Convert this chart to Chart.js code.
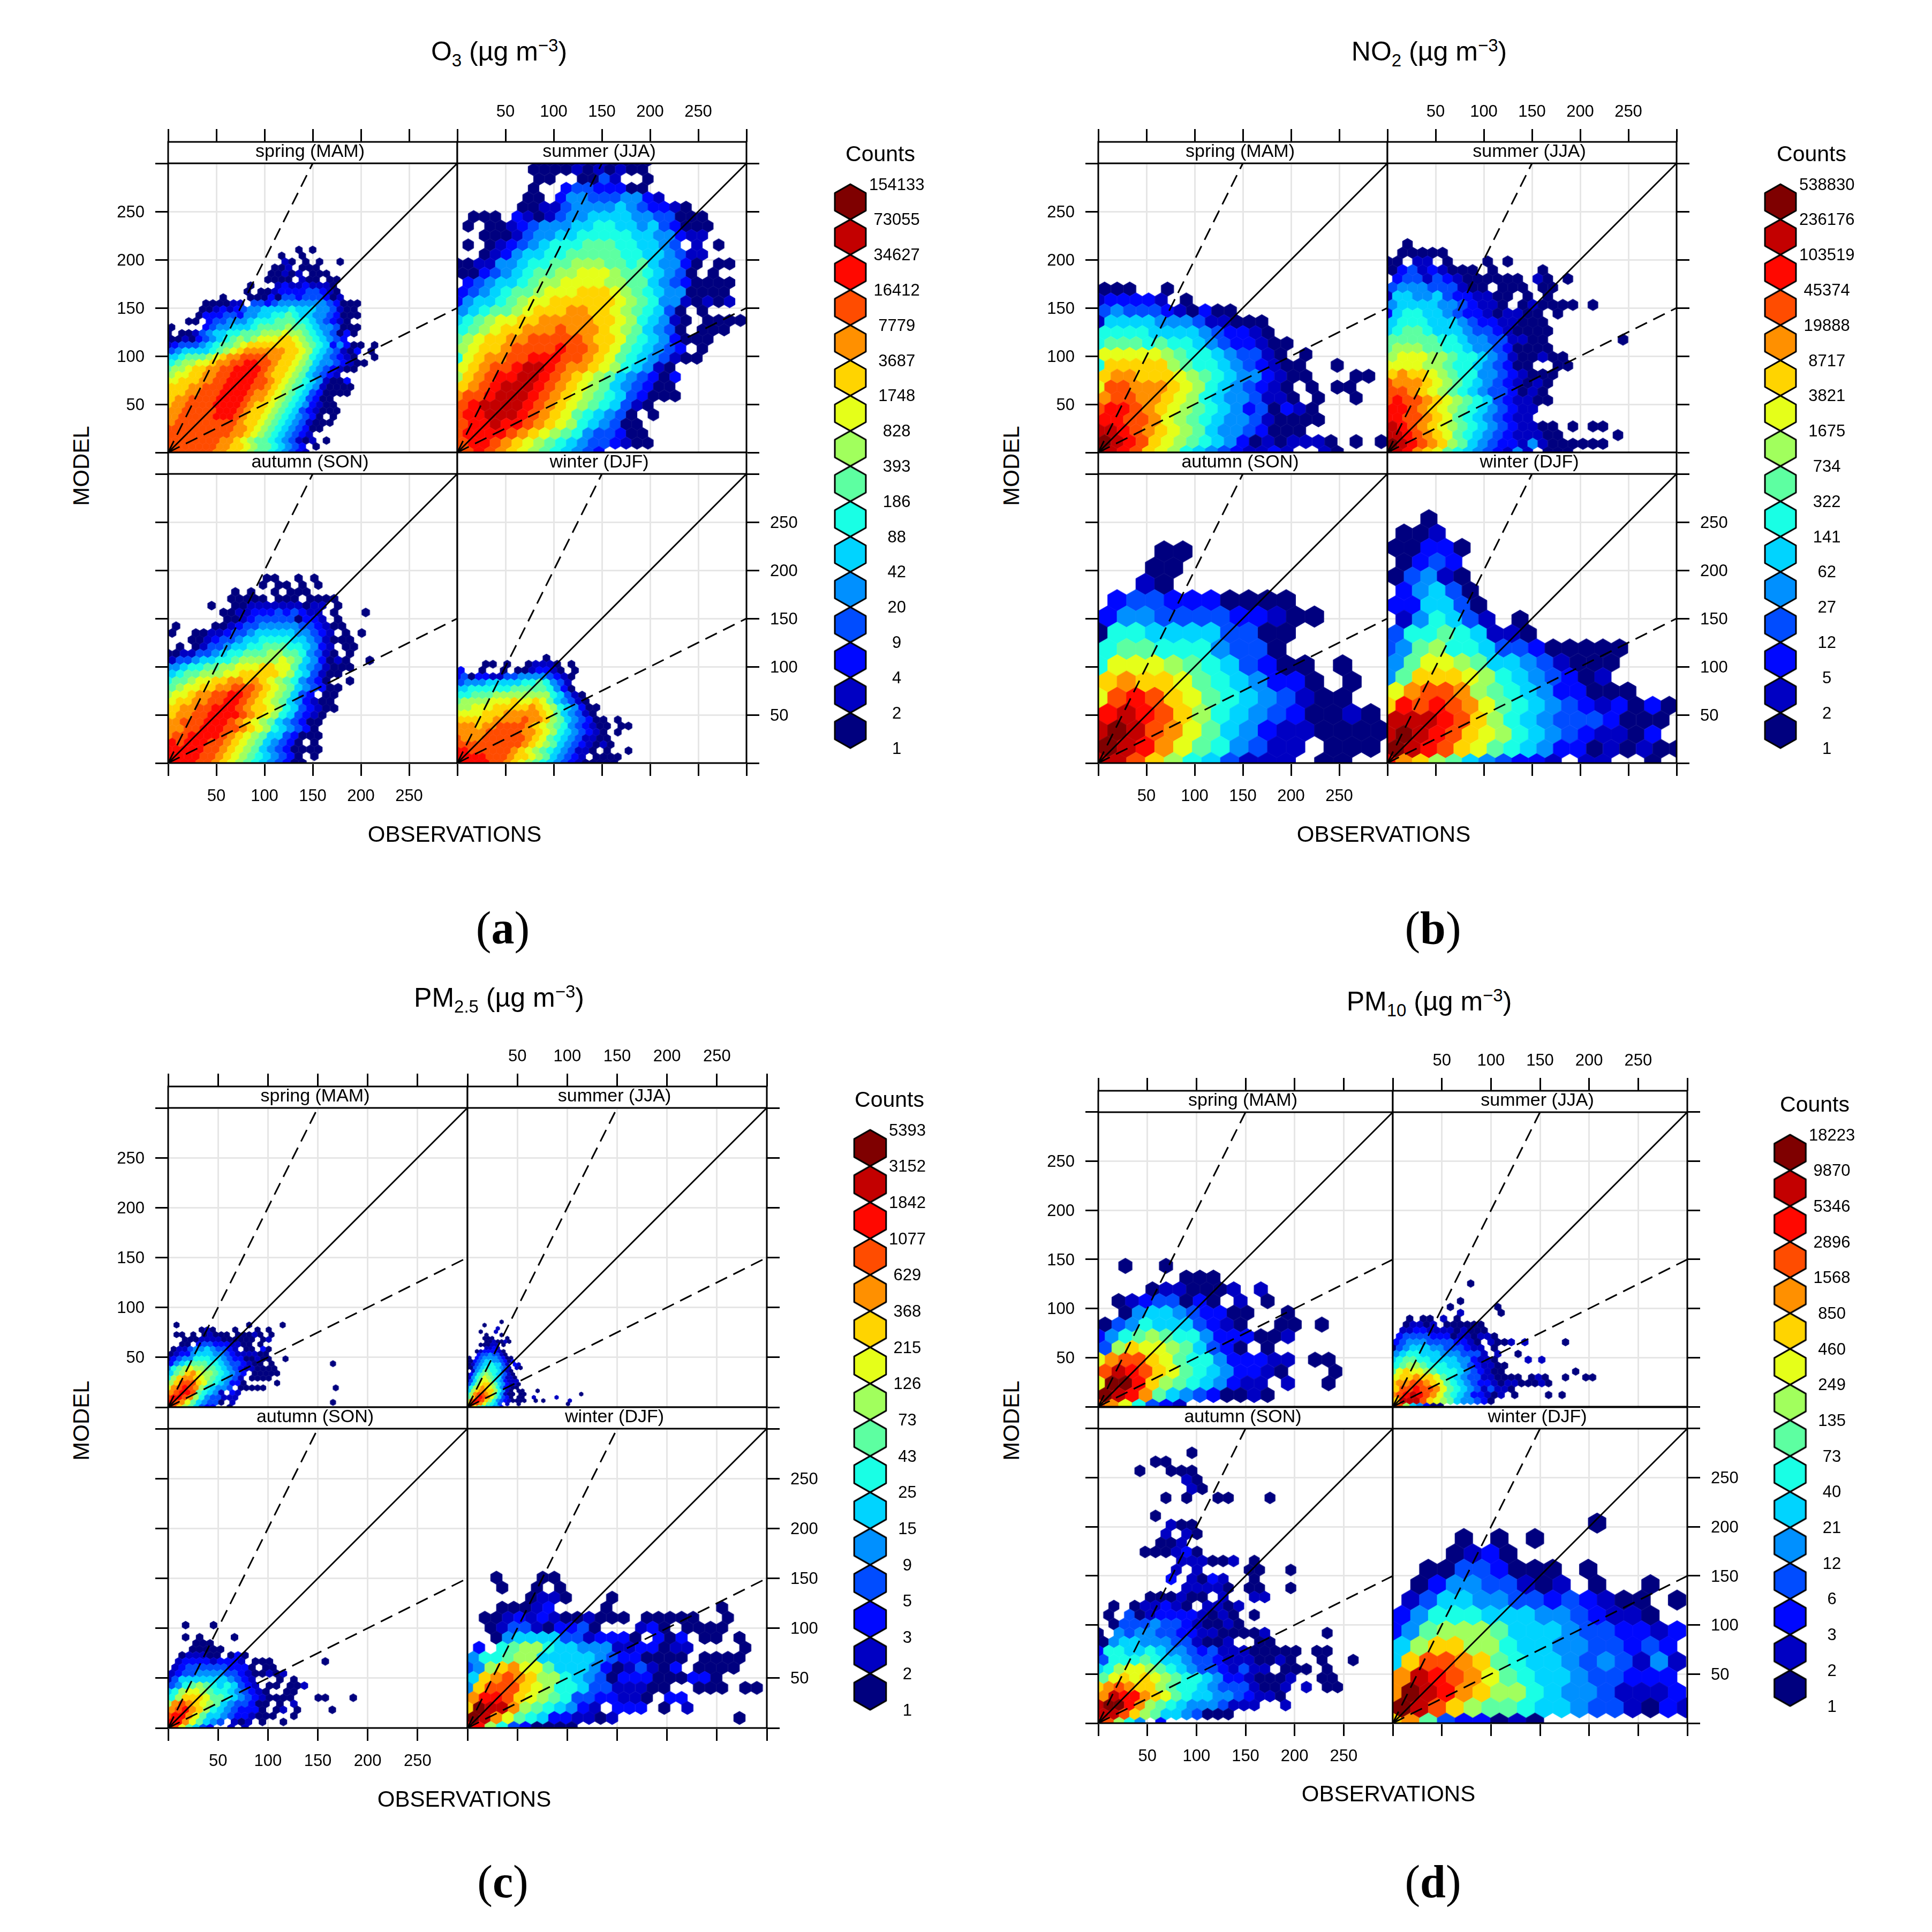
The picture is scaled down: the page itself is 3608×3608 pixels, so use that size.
<!DOCTYPE html>
<html>
<head>
<meta charset="utf-8">
<script src="https://cdn.jsdelivr.net/npm/chart.js@4"></script>
<style>
	body { margin:0; background:#fff; width:3608px; height:3608px; position:relative; overflow:hidden; font-family:"Liberation Sans",sans-serif; color:#000; }
	canvas { position:absolute; }
	.txt { position:absolute; transform:translate(-50%,-50%); white-space:nowrap; }
	.title { font-size:50px; }
	.title sub, .title sup { font-size:33px; }
	.axis { font-size:42px; }
	.tag { font-size:86px; font-family:"Liberation Serif",serif; }
	.counts { font-size:41px; }
</style>
</head>
<body>
<script>
//Legend counts, largest first
const O3_COUNTS = [154133,73055,34627,16412,7779,3687,1748,828,393,186,88,42,20,9,4,2,1];
const NO2_COUNTS = [538830,236176,103519,45374,19888,8717,3821,1675,734,322,141,62,27,12,5,2,1];
const PM25_COUNTS = [5393,3152,1842,1077,629,368,215,126,73,43,25,15,9,5,3,2,1];
const PM10_COUNTS = [18223,9870,5346,2896,1568,850,460,249,135,73,40,21,12,6,3,2,1];

const SEASONS = ['spring (MAM)','summer (JJA)','autumn (SON)','winter (DJF)'];
const AXIS_TICKS = [0,50,100,150,200,250,300];
const AXIS_LABELS = [50,100,150,200,250];

//Reference lines 1:1, 2:1 and 1:2
const LINE_1_1 = [[0,0],[300,300]];
const LINE_2_1 = [[0,0],[150,300]];
const LINE_1_2 = [[0,0],[300,150]];

//Hexbin cells, one string per row, top row first. Each char is the colour class
//of a cell (0 = lowest count class, f = highest), '.' is an empty cell
const O3_SPRING = [
"...................0.0",
"................0..0",
".................10.0.0..0",
"...............001.000",
"...............00101.000",
"..............0000.100.00",
"............0...121121110",
"...........0.001222233210",
"........0...00020332333201",
".....000011.3323444444432000",
".....00121234455556555443100",
"....022233244556676554432000",
"...00.233444566677766543210",
"0....23445556777787765443000",
"0.00134556677788898876543020",
"0010234567878999aa98765432",
"123334567789aaaaaaa9876524200.0",
"3455556789abbbbbbaa986543102.0",
"55677789abbccccbbaa986543210..0",
"678899abbccddccbaa98754432100",
"7889aabbccddddcbaa9875432100",
"899aabbccddddcbaa98754321",
"99aaabbccddddccba9876541002",
"aaabbcccddddccba98765410000",
"aaabbcccddddcbba98765320000",
"abbccccddddcbba987653200",
"abbccccddddcbaa9876542100",
"bbcccccdddcbaa98765321000",
"bbcccccdddcbaa987654320.0",
"bcccccccccbaa98765431000",
"ccccccccccbba9876543200",
"cccccccccbba987654321",
"ccccccccbba98776543101.0",
"cccccccbbaa987765432.0",
"cccccccbbaa9877654321"];
const O3_SUMMER = [
".......00001010000",
".......00001010100",
".......00..0031..0",
".......0..23322200",
"......00.2443334421",
"......0011344445432210",
".000.210134455554433000",
".0.001234445566554532000",
"..000134455666665544211",
".0.012345666777665543.1.0",
"..012455667777766554311",
"00114456677888776754420.00",
"0023456778899987765430.0",
".2345567889999887754320000",
"23456778999aaa98765440000",
"245567899aaaaaa98764410101",
"4567789aaabbaa9876530.0",
"567899aabbbbbaa9865410.0000",
"6789aabbbcbbba9875430.000",
"789aabbcccccbaa976542000",
"89aabccccdccba9765432.0",
"69abbccdddccba976543100",
"9abccdeedcbba9865410",
"8abcddeedcba987543202",
"abcdeeedcba987543200",
"bccdeeedcba9876532000",
"cdeeeedcba98765310",
"cddeeedcba9765430.0",
"cddeddcba98654300",
"cddddcba9876433200",
"cddcba987654332100",
"ccdcba98765432"];
const O3_AUTUMN = [
"............00..0.0",
"............0.00.0.0",
"........0.0..0.000",
"........00000.000.0000",
".....0..001111111011.0",
".......0011222323211.0...0",
".......0012333330221.0",
".0....00123344444332100",
"0..001123345555544321.0.0",
"...001233455666655431000",
".0.013345566777665421.00",
"0011334566777887764310.0",
"13345566788888987542010..0",
"445667788999aa9975431000",
"567788899aaaaa98653100",
"677899aabbaba98764320..0",
"7899aabbcccba987543200",
"899abbccddcba987532.00",
"9aabbccddcba987542100",
"aabbccdddcbaa986532100",
"abbccddddcba98653210",
"bbcccdddcba987543200",
"bbccdddccba98654320",
"bccddddcba9875532000",
"dcdddccba98754320.0",
"dddddccba98754320000",
"ddddccba987654320.0",
"ddddccba9876543200"];
const O3_WINTER = [
"............0",
"....00.0..01110.0",
"2..0..0.0012210.0",
"23022113344443210",
"3444555556676431",
"55666666777776420",
"667778888888865310",
"78888999a99a9754310",
"88999aaaaaba98654200",
"9999aaabbbbba9754310",
"aaaaabbbbcbba87543200.0",
"bbbabbccccba9876432100.00",
"bbbbcccccbba986543210.0",
"cbbbccccccba9765431100",
"cccccccccba98754321010",
"ddccccccba9876543110.0..0",
"ddddcccbaa98754321.0000",
"dddddccba98765432100000"];
const NO2_SPRING = [
"000..0",
"122221.0",
"34333210200",
"15555444311000",
"66665555432210",
"6777676654322100",
"999998766543310.0",
"6aaaaa87665432100..0",
"abbaaa98765442100...00",
"9ccbbba986543210.0.00",
"bccbba9865443110.0..0",
"cddcba987654230210",
"ddccb9876544310000",
"eedcba98754432000",
"fedca98765420101110.0.0",
"fedca98654321121..10"];
const NO2_SUMMER = [
"..0",
".00000",
"00.11.0...0.0",
"023121000.0....0",
".2331321000000.10.0",
"3444333100.000.00",
"1554453221100.0.0",
"455554432110.010000.0",
"2566554322101100.0",
"5666555432211000",
"56776555433210000",
"7777766544331100.......0",
"78887766544320000",
"899988766543100100",
"999988766543200..00",
"abaa9876644321000",
"cbbba987654321010",
"ccba987654332010",
"cdccba98765321100",
"ddcba9876543211",
"ddccba976543211",
"edcba987654321100.0.00",
"eedcba976543211100.....0",
"fedcba8754322141000000",
"fedba9765432141.000"];
const NO2_AUTUMN = [
"...00",
"...00",
"..10",
".2332220000",
"244333322100",
"06655553300",
"6776664330",
"699987653200.0",
"abaa97654220.0.0",
"9cdca976543100",
"dedca8654320010",
"efecb97542110000",
"fedb9764311.0002",
"eeca8653111.00"];
const NO2_WINTER = [
"..0",
".001",
"00220",
".0232",
"03410",
".24530",
"225530",
".146531.0",
"366765110",
"347866533200000",
"47998755431000",
"47aaa986543201",
"9bccb8765422000",
"adcdcb976543212020",
"eeedca86543332000",
"efedca98654321102",
"fedca9765422010100",
"dba87543221.11..0"];
const PM25_SPRING = [
".0............0.....0",
"......010...0...0.0",
".00.0.01000.00010.0",
"...0001111000000.01",
"..00.2332221100.0",
".011344543321.00.20",
"012245554432111100",
"1234466655432200100..0",
"24567776654332100.0..........0",
"46789887765432110000",
"578ab988765432.00000",
"68abba98765431.0000",
"8accca97654220.....0",
"9bcdcb865443.00000............0",
"bcddc76541.21",
"cddcb86433111",
"dcb9754330.1.................0",
"eca875322..0"];
const PM25_SUMMER = [
".........0",
"....0",
"........1",
"...0...1",
".....0...0",
"....000...0",
".....0010010",
"...00011.0",
".....1121",
"..01222210",
"...23343310",
"0.2344443200",
"0023455443202",
"01345565531.21",
"003456665431.10",
".14577665310",
"0246787654310",
"1467987653110",
"13579986542111",
"3579aa87542110",
"468aba98642100",
"58abbaa86410.00...0",
"68bccba864100.00..............0",
"7acdcb975320.00..1.....1",
"8cddca8643210000..0.0......1",
"adcb97653.1..0............0",
"ab97655442"];
const PM25_AUTUMN = [
"..0...0",
".",
"..0.0....0",
"....000",
"...00000",
"..011100.020",
".1222212221.000.......0",
".123333332220.00",
"12334444332100101",
"1355555554321...0.0",
"3467876565321.00.001",
"568998766543210..00",
"68aaa9776543210000...00...0",
"8bcba9875433200.0.1",
"bcdba865432220.01.0....0",
"cddb975543221000..0",
"ddb97543.101.0..0",
"dc97532..1.1"];
const PM25_WINTER = [
"..0...00",
"...0..0.0",
".....0110...0",
"...00012....0.........0",
".0012121001000.00000..0",
"..0133102230...120.0000",
"..0455553312220.202.00.0",
".2.67886554441122011....0",
"4667885555543220000.0000",
"348ab99755542013102.0000",
"5abcba8865430222000220",
"4accca986653311100..000.00",
"bddca98763322110.22",
"afeeb8765421.222.0.1",
"feb9765221101..........0",
"dd86320000"];
const PM10_SPRING = [
"..0..0",
"......000",
"....0110001.1",
".01233020.1.0",
"..0455432200..0",
"03465553210..00.0",
"246787664222001",
"38a99875320.0",
"9bcca9766422211.00",
"cedca976542210...0",
"9ffda87654211.1..0",
"fedb754320010",
"cb96321"];
const PM10_SUMMER = [
"...........0",
".",
".",
"..........0",
"........0......0",
"..........1.....0",
"..0.00.1.0",
"..01101.000000",
".1122111101000",
".233332220110110",
"2344433332210.1001.1.....0",
"03455544333211.0",
"45665554443331.1..0",
"5677665555442110....1.1",
"67887666554321100",
"79a99876665432100..........0",
"9aabaa9765433110000.010..0..00",
"abbccba97654322101100010",
"accdccb97654313110",
"bcdedcb9765422101.0....0.0",
"aeeeca987544320",
"bc854200"];
const PM10_AUTUMN = [
".........0",
".....00",
"....0..000",
"........10",
".........10",
"......0.0..00...0",
".",
".....0",
".......100",
"......1.10",
"......001",
"....000120",
"........111001.0",
".......1.1....00..0",
".......2.1021..0",
"........11110.00..0",
".....000100.1..11",
".0.011210.1101",
".0.30122221010.0",
".0333433210010",
"0.434433221100001.....0",
"0455444331001..00",
"26655654432311100000.00",
"3666765543321110010..0..0",
"56899876543321311.000.0",
"79a9a98766542210001..00",
"abcbaa8766543331001.1.00",
"beddba976554432110",
"effdb87654443111..1",
"eeca875543000",
"dc864.2"];
const PM10_WINTER = [
"...........0",
"....0.0.0",
"...0120",
"..00332000.0",
".024433101.0..0",
".13554433232100.0",
"246665554432110",
"24788875554332212",
"58aa886554433232",
"5accba76554343141",
"bedcb97655433222",
"bfedba88654431112",
"feca8776554331021",
"ab7322010"];

//Colour classes, lowest count first
const CLASS_COLOURS = ['#00007F','#0000C3','#0008FF','#004CFF','#0090FF','#00D4FF','#19FFE5','#5DFFA1','#A1FF5D','#E5FF19','#FFD400','#FF9000','#FF4C00','#FF0800','#C30000','#7F0000'];

//Page layout of the four figures
const FIGURES = [
	{title:'O<sub>3</sub> (µg m<sup>−3</sup>)', titleAt:[932,99], tag:'a', tagAt:[939,1733], left:314, rowTops:[265,845], size:540,
	 xTitleAt:[849,1558], yTitleAt:[152,870], grids:[O3_SPRING,O3_SUMMER,O3_AUTUMN,O3_WINTER], bins:[7.14,11.3,8.2,7.4],
	 counts:O3_COUNTS, legendX:1588, legendY:344, legendStep:65.8, countsAt:[1644,287]},
	{title:'NO<sub>2</sub> (µg m<sup>−3</sup>)', titleAt:[2669,99], tag:'b', tagAt:[2676,1733], left:2051, rowTops:[265,845], size:540,
	 xTitleAt:[2584,1558], yTitleAt:[1889,870], grids:[NO2_SPRING,NO2_SUMMER,NO2_AUTUMN,NO2_WINTER], bins:[13.05,10.4,19.5,17.2],
	 counts:NO2_COUNTS, legendX:3325, legendY:344, legendStep:65.8, countsAt:[3383,287]},
	{title:'PM<sub>2.5</sub> (µg m<sup>−3</sup>)', titleAt:[932,1866], tag:'c', tagAt:[939,3514], left:314, rowTops:[2029,2628], size:559,
	 xTitleAt:[867,3360], yTitleAt:[152,2653], grids:[PM25_SPRING,PM25_SUMMER,PM25_AUTUMN,PM25_WINTER], bins:[5.6,3.8,7,11.6],
	 counts:PM25_COUNTS, legendX:1625, legendY:2110, legendStep:67.7, countsAt:[1661,2053]},
	{title:'PM<sub>10</sub> (µg m<sup>−3</sup>)', titleAt:[2669,1873], tag:'d', tagAt:[2676,3514], left:2051, rowTops:[2037,2628], size:550,
	 xTitleAt:[2593,3350], yTitleAt:[1889,2653], grids:[PM10_SPRING,PM10_SUMMER,PM10_AUTUMN,PM10_WINTER], bins:[13.8,6.9,10.6,18.1],
	 counts:PM10_COUNTS, legendX:3343, legendY:2119, legendStep:66.7, countsAt:[3389,2062]}
];

const STRIP = 40;   //height of the season strip
const MARGIN = 130; //room round each panel for ticks and labels
const TICK_FONT = {family:'"Liberation Sans"', size:31};

Chart.defaults.font.family = '"Liberation Sans"';
Chart.defaults.color = '#000';

//Pre-drawn hexagon used as point style
let hexCache = {};
function hexImage(level, w, h, outline){
	let key = [level,w,h,outline].join('_');
	if (hexCache[key]) return hexCache[key];
	let c = document.createElement('canvas');
	c.width = Math.ceil(w+6); c.height = Math.ceil(h+6);
	let g = c.getContext('2d');
	g.translate(c.width/2, c.height/2);
	g.beginPath();
	g.moveTo(0,-h/2); g.lineTo(w/2,-h/4); g.lineTo(w/2,h/4);
	g.lineTo(0,h/2); g.lineTo(-w/2,h/4); g.lineTo(-w/2,-h/4);
	g.closePath();
	g.fillStyle = CLASS_COLOURS[level];
	g.fill();
	g.lineJoin = 'round';
	g.strokeStyle = outline ? '#000' : CLASS_COLOURS[level];
	g.lineWidth = outline ? 3 : 0.9;
	g.stroke();
	hexCache[key] = c;
	return c;
}

//Turn the rows of a grid into points in data units
function gridPoints(rows, bin){
	let pts = [];
	rows.forEach((row,i) => {
		let r = rows.length-1-i;
		for (let c=0; c<row.length; c++){
			if (row[c] == '.') continue;
			pts.push({x:(c+(r%2)*0.5)*bin, y:r*bin*Math.sqrt(3)/2, level:parseInt(row[c],16)});
		}
	});
	return pts;
}

function refLine(pairs, dashed){
	return {
		data: pairs.map(p => ({x:p[0],y:p[1]})),
		showLine:true, pointRadius:0, borderColor:'#000', borderWidth:3,
		borderDash: dashed ? [24,13] : [], clip:0
	};
}

//Draws the strip and the panel box over the cells
const panelFrame = {
	id:'panelFrame',
	afterDatasetsDraw(chart, args, opts){
		let ctx = chart.ctx, a = chart.chartArea;
		let top = chart.scales.y.getPixelForValue(300);
		ctx.save();
		ctx.fillStyle = '#fff';
		ctx.fillRect(a.left, a.top, a.right-a.left, top-a.top);
		ctx.strokeStyle = '#000';
		ctx.lineWidth = 3;
		ctx.strokeRect(a.left, a.top, a.right-a.left, a.bottom-a.top);
		ctx.beginPath(); ctx.moveTo(a.left,top); ctx.lineTo(a.right,top); ctx.stroke();
		ctx.fillStyle = '#000';
		ctx.font = '34px "Liberation Sans"';
		ctx.textAlign = 'center';
		ctx.textBaseline = 'middle';
		ctx.fillText(opts.label, (a.left+a.right)/2-5, (a.top+top)/2-1);
		ctx.restore();
	}
};

function addCanvas(left, top, w, h){
	let c = document.createElement('canvas');
	c.width = w; c.height = h;
	c.style.left = left+'px'; c.style.top = top+'px';
	document.body.appendChild(c);
	return c.getContext('2d');
}

function addText(cls, at, html, rotate){
	let d = document.createElement('div');
	d.className = 'txt '+cls;
	d.style.left = at[0]+'px'; d.style.top = at[1]+'px';
	if (rotate) d.style.transform = 'translate(-50%,-50%) rotate(-90deg)';
	d.innerHTML = html;
	document.body.appendChild(d);
}

function drawPanel(fig, i){
	let col = i%2, row = i<2 ? 0 : 1;
	let size = fig.size;
	let left = fig.left + col*size, top = fig.rowTops[row];
	let bin = fig.bins[i], px = bin*size/300;
	let w = size+2*MARGIN, h = size+STRIP+2*MARGIN;
	let xLabels = (row==0 && col==1) || (row==1 && col==0);
	let yLabels = (row==0 && col==0) || (row==1 && col==1);
	let tickGrid = {color:'#e6e6e6', lineWidth:3, tickColor:'#000', tickWidth:3, tickLength:24};
	new Chart(addCanvas(left-MARGIN, top-MARGIN, w, h), {
		type:'scatter',
		data:{datasets:[
			refLine(LINE_1_1,false), refLine(LINE_2_1,true), refLine(LINE_1_2,true),
			{
				data: gridPoints(fig.grids[i], bin),
				clip:0, pointRadius:1, pointBorderWidth:0,
				pointStyle: c => hexImage(c.raw.level, px, px*2/Math.sqrt(3), false)
			}
		]},
		options:{
			animation:false, responsive:false, events:[],
			layout:{autoPadding:false, padding:{
				left: col==1 ? MARGIN : 0, right: col==0 ? MARGIN : 0,
				top: row==1 ? MARGIN : 0, bottom: row==0 ? MARGIN : 0
			}},
			plugins:{legend:{display:false}, tooltip:{enabled:false}, panelFrame:{label:SEASONS[i]}},
			scales:{
				x:{
					type:'linear', position: row==0 ? 'top' : 'bottom', min:0, max:300,
					afterBuildTicks: s => { s.ticks = AXIS_TICKS.map(v => ({value:v})); },
					afterFit: s => { s.height = MARGIN; },
					grid:tickGrid, border:{display:false},
					ticks:{font:TICK_FONT, color:'#000', padding: row==0 ? 13 : 20, autoSkip:false, maxRotation:0,
						callback: v => (xLabels && AXIS_LABELS.includes(v)) ? v : ''}
				},
				y:{
					type:'linear', position: col==0 ? 'left' : 'right', min:0, max:300*(size+STRIP)/size,
					afterBuildTicks: s => { s.ticks = AXIS_TICKS.map(v => ({value:v})); },
					afterFit: s => { s.width = MARGIN; },
					grid:tickGrid, border:{display:false},
					ticks:{font:TICK_FONT, color:'#000', padding:20, autoSkip:false, labelOffset:2,
						callback: v => (yLabels && AXIS_LABELS.includes(v)) ? v : ''}
				}
			}
		},
		plugins:[panelFrame]
	});
}

function drawLegend(fig){
	let step = fig.legendStep, pad = 40;
	let hexH = step, hexW = step*0.88;
	let points = fig.counts.slice(0,16).map((n,i) => ({x:0, y:i+0.5, level:15-i}));
	new Chart(addCanvas(fig.legendX-35, fig.legendY-pad, 250, Math.round(16*step)+2*pad), {
		type:'scatter',
		data:{datasets:[{
			data:points, clip:false, pointRadius:1, pointBorderWidth:0,
			pointStyle: c => hexImage(c.raw.level, hexW, hexH, true)
		}]},
		options:{
			animation:false, responsive:false, events:[],
			layout:{autoPadding:false, padding:{top:pad, bottom:pad}},
			plugins:{legend:{display:false}, tooltip:{enabled:false}},
			scales:{
				x:{type:'linear', display:false, min:-1, max:1},
				y:{
					type:'linear', position:'right', reverse:true, min:0, max:16,
					afterBuildTicks: s => { s.ticks = fig.counts.map((n,i) => ({value:i})); },
					afterFit: s => { s.width = 180; },
					grid:{display:false, drawTicks:false}, border:{display:false},
					ticks:{font:TICK_FONT, color:'#000', padding:0, autoSkip:false, crossAlign:'center', labelOffset:2,
						callback: v => fig.counts[v]}
				}
			}
		}
	});
}

FIGURES.forEach(fig => {
	for (let i=0; i<4; i++) drawPanel(fig,i);
	drawLegend(fig);
	addText('title', fig.titleAt, fig.title);
	addText('tag', fig.tagAt, '(<b>'+fig.tag+'</b>)');
	addText('axis', fig.xTitleAt, 'OBSERVATIONS');
	addText('axis', fig.yTitleAt, 'MODEL', true);
	addText('counts', fig.countsAt, 'Counts');
});
</script>
</body>
</html>
